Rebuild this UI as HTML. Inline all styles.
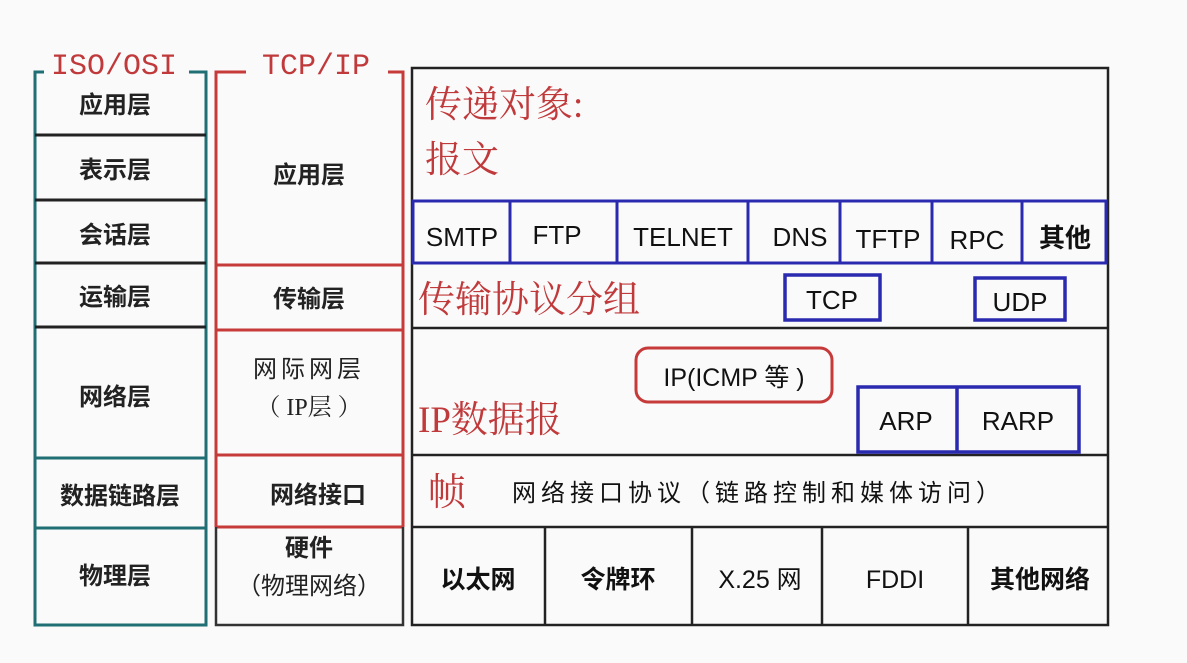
<!DOCTYPE html>
<html><head><meta charset="utf-8"><style>
html,body{margin:0;padding:0;background:#fafafa;}
svg text{font-family:"Liberation Sans","Noto Sans CJK SC",sans-serif;}
.s{font-family:"Liberation Serif","Noto Serif CJK SC",serif !important;}
.m{font-family:"Liberation Mono","Noto Sans CJK SC",monospace !important;}
</style></head><body>
<svg width="1187" height="658" viewBox="0 0 1187 658" xmlns="http://www.w3.org/2000/svg">
<rect width="1187" height="658" fill="#fafafa"/>
<g stroke="#1f6f74" stroke-width="3" fill="none">
<polyline points="44,72 35,72 35,625 206,625 206,72 189,72"/>
<line x1="35" y1="135" x2="206" y2="135" stroke="#222"/>
<line x1="35" y1="200" x2="206" y2="200" stroke="#222"/>
<line x1="35" y1="263" x2="206" y2="263" stroke="#222"/>
<line x1="35" y1="327" x2="206" y2="327" stroke="#222"/>
<line x1="35" y1="458" x2="206" y2="458"/>
<line x1="35" y1="528" x2="206" y2="528"/>
</g>
<text x="114" y="74" class="m" font-size="30" fill="#c0393b" text-anchor="middle">ISO/OSI</text>
<g font-size="24" font-weight="bold" fill="#222" text-anchor="middle">
<text x="115" y="113">应用层</text>
<text x="115" y="178">表示层</text>
<text x="115" y="243">会话层</text>
<text x="115" y="305">运输层</text>
<text x="115" y="405">网络层</text>
<text x="120" y="504">数据链路层</text>
<text x="115" y="584">物理层</text>
</g>
<g stroke="#c63a3a" stroke-width="3" fill="none">
<polyline points="246,72 216,72 216,527"/>
<polyline points="388,72 403,72 403,527"/>
<line x1="216" y1="265" x2="403" y2="265"/>
<line x1="216" y1="330" x2="403" y2="330"/>
<line x1="216" y1="455" x2="403" y2="455"/>
<line x1="216" y1="527" x2="403" y2="527"/>
</g>
<polyline points="216,527 216,625 403,625 403,527" stroke="#333" stroke-width="2.5" fill="none"/>
<text x="316" y="74" class="m" font-size="30" fill="#c0393b" text-anchor="middle">TCP/IP</text>
<g font-size="24" font-weight="bold" fill="#222" text-anchor="middle">
<text x="309" y="183">应用层</text>
<text x="309" y="307">传输层</text>
<text x="309" y="377" font-weight="normal" letter-spacing="4">网际网层</text>
<text x="309" y="415" font-weight="normal" class="s">（ IP层 ）</text>
<text x="318" y="503">网络接口</text>
<text x="309" y="556">硬件</text>
<text x="309" y="594" font-weight="normal">（物理网络）</text>
</g>
<g stroke="#222" stroke-width="2.5" fill="none">
<rect x="412" y="68" width="696" height="557"/>
<line x1="412" y1="328" x2="1108" y2="328"/>
<line x1="412" y1="455" x2="1108" y2="455"/>
<line x1="412" y1="527" x2="1108" y2="527"/>
<line x1="545" y1="527" x2="545" y2="625"/>
<line x1="692" y1="527" x2="692" y2="625"/>
<line x1="822" y1="527" x2="822" y2="625"/>
<line x1="968" y1="527" x2="968" y2="625"/>
</g>
<text x="425" y="117" class="s" font-size="37" fill="#c0393b">传递对象:</text>
<text x="425" y="172" class="s" font-size="37" fill="#c0393b">报文</text>
<g stroke="#2a2ab0" stroke-width="3" fill="none">
<rect x="413" y="201" width="693" height="62"/>
<line x1="510" y1="201" x2="510" y2="263"/>
<line x1="617" y1="201" x2="617" y2="263"/>
<line x1="748" y1="201" x2="748" y2="263"/>
<line x1="840" y1="201" x2="840" y2="263"/>
<line x1="932" y1="201" x2="932" y2="263"/>
<line x1="1022" y1="201" x2="1022" y2="263"/>
</g>
<g font-size="26" fill="#111" text-anchor="middle">
<text x="462" y="246">SMTP</text>
<text x="557" y="244">FTP</text>
<text x="683" y="246">TELNET</text>
<text x="800" y="246">DNS</text>
<text x="888" y="248">TFTP</text>
<text x="977" y="249">RPC</text>
<text x="1065" y="247" font-weight="bold">其他</text>
</g>
<text x="418" y="312" class="s" font-size="37" fill="#c0393b">传输协议分组</text>
<g stroke="#2a2ab0" stroke-width="3.5" fill="none">
<rect x="785" y="275" width="95" height="45"/>
<rect x="975" y="278" width="90" height="42"/>
<rect x="858" y="387" width="221" height="65"/>
<line x1="957" y1="387" x2="957" y2="452"/>
</g>
<g font-size="26" fill="#111" text-anchor="middle">
<text x="832" y="309">TCP</text>
<text x="1020" y="311">UDP</text>
<text x="906" y="430">ARP</text>
<text x="1018" y="430">RARP</text>
</g>
<rect x="636" y="348" width="196" height="54" rx="12" stroke="#c63a3a" stroke-width="3" fill="none"/>
<text x="734" y="386" font-size="25" fill="#111" text-anchor="middle">IP(ICMP 等 )</text>
<text x="418" y="432" class="s" font-size="37" fill="#c0393b">IP数据报</text>
<text x="428" y="505" class="s" font-size="38" fill="#c0393b">帧</text>
<text x="512" y="501" font-size="24" letter-spacing="5" fill="#111">网络接口协议（链路控制和媒体访问）</text>
<g font-size="25" fill="#111" text-anchor="middle">
<text x="478" y="588" font-weight="bold">以太网</text>
<text x="618" y="588" font-weight="bold">令牌环</text>
<text x="760" y="588">X.25 网</text>
<text x="895" y="588">FDDI</text>
<text x="1040" y="588" font-weight="bold">其他网络</text>
</g>
</svg>
</body></html>
